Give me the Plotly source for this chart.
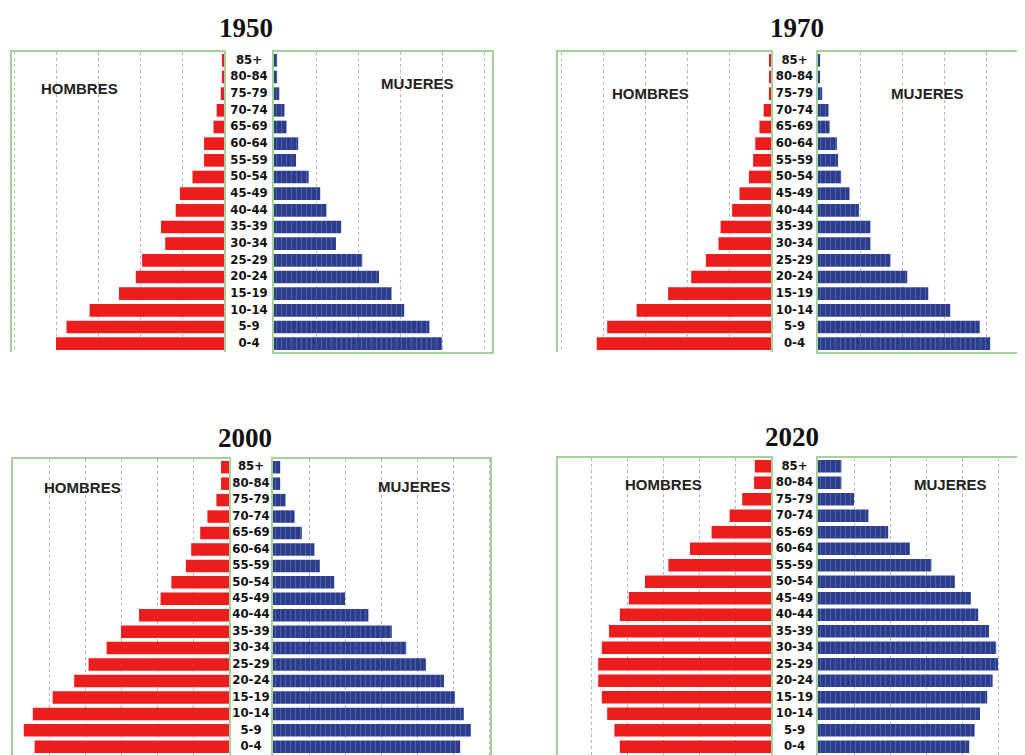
import plotly.graph_objects as go

# ---------------- data ----------------
AGES = ["0-4", "5-9", "10-14", "15-19", "20-24", "25-29", "30-34", "35-39",
        "40-44", "45-49", "50-54", "55-59", "60-64", "65-69", "70-74",
        "75-79", "80-84", "85+"]

YEARS = ["1950", "1970", "2000", "2020"]

HOMBRES_1950 = [8.0, 7.5, 6.4, 5.0, 4.2, 3.9, 2.8, 3.0, 2.3, 2.1, 1.5, 0.95,
                0.95, 0.5, 0.35, 0.15, 0.1, 0.05]
MUJERES_1950 = [8.0, 7.4, 6.2, 5.6, 5.0, 4.2, 2.95, 3.2, 2.5, 2.2, 1.65, 1.05,
                1.15, 0.6, 0.5, 0.25, 0.15, 0.15]

HOMBRES_1970 = [8.3, 7.8, 6.4, 4.9, 3.8, 3.1, 2.5, 2.4, 1.85, 1.5, 1.05, 0.85,
                0.75, 0.55, 0.35, 0.1, 0.05, 0.05]
MUJERES_1970 = [8.2, 7.7, 6.3, 5.25, 4.25, 3.45, 2.5, 2.5, 1.95, 1.5, 1.1, 0.95,
                0.9, 0.55, 0.5, 0.2, 0.1, 0.1]

HOMBRES_2000 = [5.4, 5.7, 5.45, 4.9, 4.3, 3.9, 3.4, 3.0, 2.5, 1.9, 1.6, 1.2,
                1.05, 0.8, 0.6, 0.35, 0.22, 0.22]
MUJERES_2000 = [5.2, 5.5, 5.3, 5.05, 4.75, 4.25, 3.7, 3.3, 2.65, 2.0, 1.7, 1.3,
                1.15, 0.8, 0.6, 0.35, 0.2, 0.2]

HOMBRES_2020 = [4.2, 4.35, 4.55, 4.7, 4.8, 4.8, 4.7, 4.5, 4.2, 3.95, 3.5, 2.85,
                2.25, 1.65, 1.15, 0.8, 0.47, 0.45]
MUJERES_2020 = [4.2, 4.35, 4.5, 4.7, 4.85, 5.0, 4.95, 4.75, 4.45, 4.25, 3.8,
                3.15, 2.55, 1.95, 1.4, 1.0, 0.65, 0.65]

LABEL_H = "HOMBRES"
LABEL_M = "MUJERES"

# ---------------- layout / style ----------------
PAGE_W, PAGE_H = 1025, 755
OFF = 8                      # default page margin around the figure
W, H = PAGE_W - OFF, PAGE_H - OFF
RED = "#ec1d1d"
BLUE = "#2b3d8c"
BLUE_LIGHT = "#7285c4"
GREEN = "#a3d19a"
GRID = "#b5b5b5"


def px2x(px):
    return min(1.0, max(0.0, (px - OFF) / W))


def px2y(py):
    return min(1.0, max(0.0, 1 - (py - OFF) / H))


panels = [
    dict(men=HOMBRES_1950, women=MUJERES_1950, year=YEARS[0],
         left=(12, 224), mid=(224, 274), right=(274, 492), top=52, bottom=352,
         scale=21.0, dtick=2, right_closed=True, box_bottom=True,
         title=(246, 28), hpos=(79, 88), mpos=(417, 83)),
    dict(men=HOMBRES_1970, women=MUJERES_1970, year=YEARS[1],
         left=(558, 771), mid=(771, 818), right=(818, 1025), top=52, bottom=352,
         scale=21.0, dtick=2, right_closed=False, box_bottom=True,
         title=(797, 28), hpos=(650, 94), mpos=(927, 94)),
    dict(men=HOMBRES_2000, women=MUJERES_2000, year=YEARS[2],
         left=(13, 229), mid=(229, 273), right=(273, 490), top=459, bottom=755,
         scale=36.0, dtick=1, right_closed=True, box_bottom=False,
         title=(245, 438), hpos=(82, 487), mpos=(414, 486)),
    dict(men=HOMBRES_2020, women=MUJERES_2020, year=YEARS[3],
         left=(558, 771), mid=(771, 818), right=(818, 1025), top=458, bottom=755,
         scale=36.0, dtick=1, right_closed=False, box_bottom=False,
         title=(792, 437), hpos=(663, 485), mpos=(950, 485)),
]

fig = go.Figure()
layout = dict(width=W, height=H, margin=dict(l=0, r=0, t=0, b=0),
              paper_bgcolor="white", plot_bgcolor="white", showlegend=False)
annotations = []

LABEL_FONT = dict(family="Liberation Sans Narrow, DejaVu Sans Condensed, Arial Narrow, sans-serif",
                  size=13, color="#111111", weight="bold")


def ykey(n):
    return "yaxis" if n == 1 else f"yaxis{n}"


def xkey(n):
    return "xaxis" if n == 1 else f"xaxis{n}"


for i, p in enumerate(panels):
    a, b, c = 3 * i + 1, 3 * i + 2, 3 * i + 3
    ydom = [px2y(p["bottom"]), px2y(p["top"])]
    wl = (p["left"][1] - p["left"][0]) / p["scale"]
    wr = (p["right"][1] - p["right"][0]) / p["scale"]

    common_x = dict(showticklabels=False, ticks="", zeroline=False,
                    showgrid=True, gridcolor=GRID, griddash="dot", gridwidth=1,
                    tick0=0, dtick=p["dtick"], showline=True, linecolor=GREEN,
                    linewidth=1.5, side="top", fixedrange=True)
    common_y = dict(type="category", categoryorder="array", categoryarray=AGES,
                    range=[-0.5, len(AGES) - 0.5], domain=ydom,
                    showticklabels=False, ticks="", showgrid=False,
                    zeroline=False, showline=True, linecolor=GREEN,
                    linewidth=1.5, fixedrange=True)

    # men (left)
    layout[xkey(a)] = dict(common_x, domain=[px2x(p["left"][0]), px2x(p["left"][1])],
                           range=[wl, 0], anchor=f"y{a}", mirror=False)
    layout[ykey(a)] = dict(common_y, anchor=f"x{a}", mirror=True)
    fig.add_trace(go.Bar(x=p["men"], y=AGES, orientation="h",
                         xaxis=f"x{a}", yaxis=f"y{a}", width=0.76,
                         marker=dict(color=RED, line=dict(width=0)),
                         hoverinfo="x+y"))

    # age labels (middle)
    layout[xkey(b)] = dict(domain=[px2x(p["mid"][0]), px2x(p["mid"][1])],
                           range=[-1, 1], visible=False, anchor=f"y{b}",
                           fixedrange=True)
    layout[ykey(b)] = dict(type="category", categoryorder="array",
                           categoryarray=AGES, range=[-0.5, len(AGES) - 0.5],
                           domain=ydom, visible=False, anchor=f"x{b}",
                           fixedrange=True)
    fig.add_trace(go.Scatter(x=[0] * len(AGES), y=AGES, mode="text", text=AGES,
                             textfont=LABEL_FONT, xaxis=f"x{b}", yaxis=f"y{b}",
                             hoverinfo="skip", cliponaxis=False))

    # women (right)
    layout[xkey(c)] = dict(common_x, domain=[px2x(p["right"][0]), px2x(p["right"][1])],
                           range=[0, wr], anchor=f"y{c}",
                           mirror=p["box_bottom"])
    layout[ykey(c)] = dict(common_y, anchor=f"x{c}", mirror=p["right_closed"],
                           side="left")
    fig.add_trace(go.Bar(x=p["women"], y=AGES, orientation="h",
                         xaxis=f"x{c}", yaxis=f"y{c}", width=0.76,
                         marker=dict(color=BLUE, line=dict(width=0),
                                     pattern=dict(shape="|", fillmode="overlay",
                                                  fgcolor=BLUE_LIGHT, size=5,
                                                  solidity=0.2)),
                         hoverinfo="x+y"))

    annotations.append(dict(text=f"<b>{p['year']}</b>", xref="paper", yref="paper",
                            x=px2x(p["title"][0]), y=px2y(p["title"][1]),
                            xanchor="center", yanchor="middle", showarrow=False,
                            font=dict(family="Liberation Serif, Times New Roman, serif",
                                      size=27, color="#111111")))
    annotations.append(dict(text=f"<b>{LABEL_H}</b>", xref="paper", yref="paper",
                            x=px2x(p["hpos"][0]), y=px2y(p["hpos"][1]),
                            xanchor="center", yanchor="middle", showarrow=False,
                            font=dict(family="Liberation Sans, Arial, sans-serif",
                                      size=15, color="#222222")))
    annotations.append(dict(text=f"<b>{LABEL_M}</b>", xref="paper", yref="paper",
                            x=px2x(p["mpos"][0]), y=px2y(p["mpos"][1]),
                            xanchor="center", yanchor="middle", showarrow=False,
                            font=dict(family="Liberation Sans, Arial, sans-serif",
                                      size=15, color="#222222")))

layout["annotations"] = annotations
fig.update_layout(**layout)
fig.write_html("out.html")
